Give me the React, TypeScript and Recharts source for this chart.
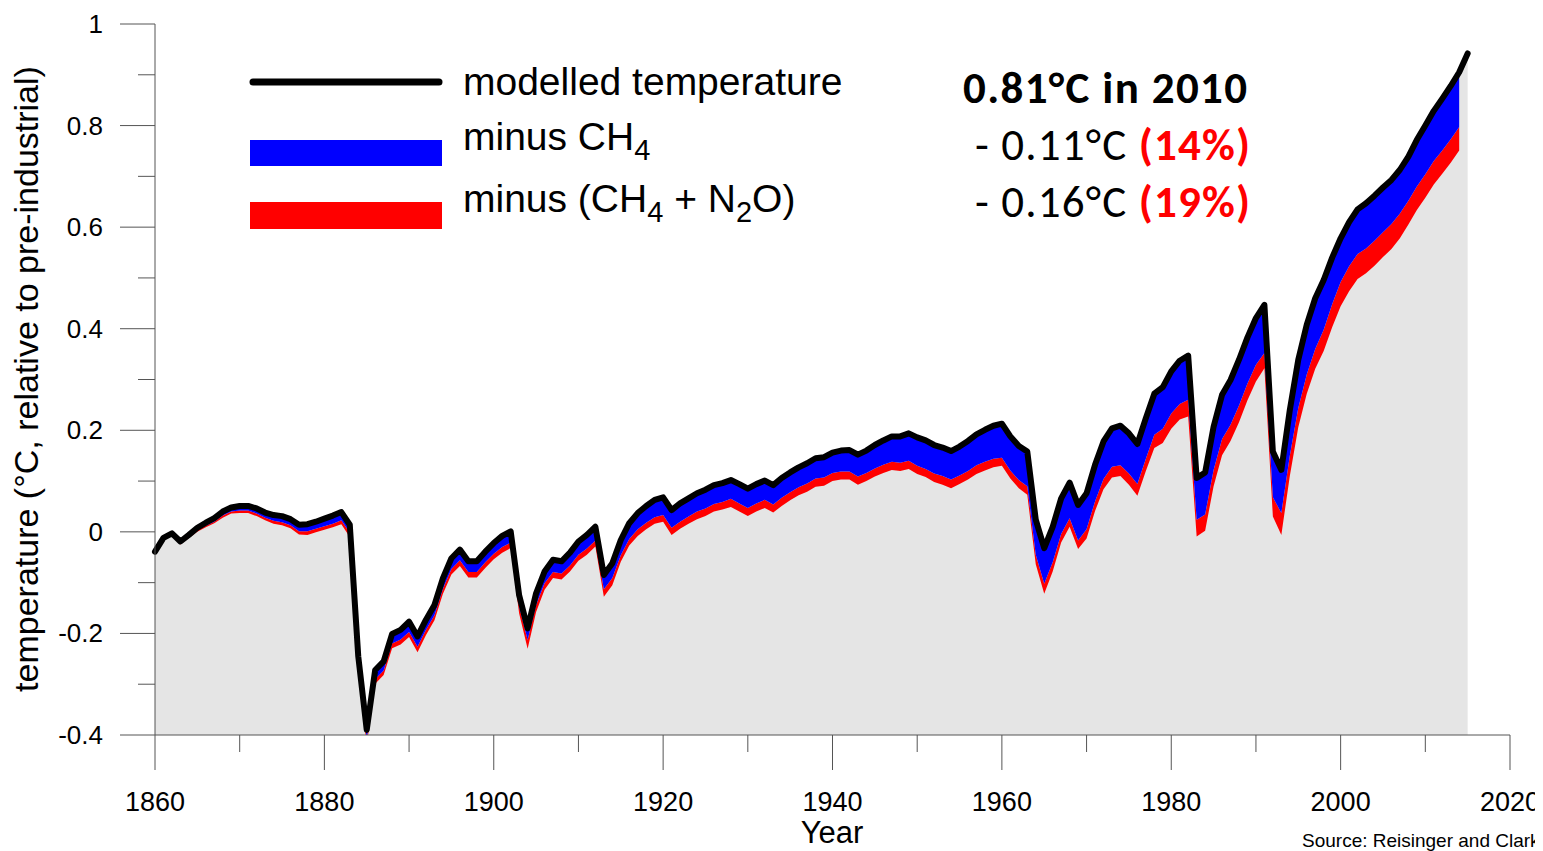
import React from "react"
import { ComposedChart, Area, Line, XAxis, YAxis } from "recharts"

// modelled temperature anomaly, one value per year from 1860
const modelled = [
  -0.039, -0.012, -0.003, -0.019, -0.006, 0.008, 0.018, 0.027, 0.04, 0.048,
  0.051, 0.051, 0.046, 0.038, 0.033, 0.031, 0.025, 0.014, 0.015, 0.02,
  0.026, 0.032, 0.039, 0.014, -0.245, -0.39, -0.272, -0.255, -0.201, -0.193,
  -0.177, -0.206, -0.173, -0.144, -0.091, -0.052, -0.035, -0.058, -0.058, -0.039,
  -0.022, -0.008, 0.001, -0.125, -0.19, -0.121, -0.078, -0.055, -0.058, -0.041,
  -0.019, -0.006, 0.01, -0.085, -0.062, -0.016, 0.017, 0.037, 0.051, 0.063,
  0.068, 0.043, 0.056, 0.066, 0.076, 0.083, 0.092, 0.096, 0.102, 0.094,
  0.085, 0.094, 0.101, 0.092, 0.106, 0.117, 0.127, 0.135, 0.145, 0.147,
  0.156, 0.16, 0.161, 0.152, 0.16, 0.171, 0.18, 0.188, 0.188, 0.194,
  0.186, 0.18, 0.171, 0.166, 0.159, 0.168, 0.179, 0.192, 0.201, 0.209,
  0.213, 0.188, 0.169, 0.158, 0.024, -0.032, 0.01, 0.066, 0.097, 0.053,
  0.076, 0.132, 0.178, 0.204, 0.209, 0.194, 0.173, 0.224, 0.272, 0.285,
  0.316, 0.337, 0.347, 0.106, 0.117, 0.207, 0.27, 0.299, 0.339, 0.383,
  0.421, 0.447, 0.158, 0.122, 0.24, 0.339, 0.408, 0.46, 0.496, 0.54,
  0.578, 0.61, 0.635, 0.647, 0.662, 0.678, 0.693, 0.713, 0.739, 0.772,
  0.8, 0.829, 0.853, 0.878, 0.905, 0.942,
]

// warming removed when CH4 is taken out (1860-2014)
const ch4Effect = [
  0.002, 0.003, 0.003, 0.004, 0.004, 0.005, 0.006, 0.007, 0.008, 0.008,
  0.009, 0.009, 0.01, 0.01, 0.011, 0.012, 0.012, 0.013, 0.014, 0.014,
  0.015, 0.016, 0.016, 0.016, 0.017, 0.018, 0.018, 0.018, 0.019, 0.019,
  0.02, 0.02, 0.02, 0.02, 0.021, 0.021, 0.021, 0.021, 0.021, 0.021,
  0.021, 0.022, 0.022, 0.022, 0.023, 0.023, 0.023, 0.024, 0.024, 0.025,
  0.026, 0.027, 0.027, 0.028, 0.029, 0.03, 0.031, 0.032, 0.033, 0.034,
  0.035, 0.035, 0.036, 0.036, 0.036, 0.037, 0.037, 0.037, 0.037, 0.038,
  0.038, 0.038, 0.038, 0.038, 0.039, 0.039, 0.039, 0.04, 0.04, 0.04,
  0.04, 0.041, 0.042, 0.043, 0.044, 0.046, 0.048, 0.05, 0.052, 0.054,
  0.056, 0.056, 0.056, 0.056, 0.056, 0.057, 0.059, 0.061, 0.063, 0.065,
  0.067, 0.067, 0.067, 0.068, 0.069, 0.07, 0.07, 0.07, 0.07, 0.07,
  0.071, 0.072, 0.074, 0.076, 0.078, 0.079, 0.079, 0.08, 0.081, 0.082,
  0.083, 0.085, 0.087, 0.082, 0.083, 0.085, 0.087, 0.088, 0.09, 0.091,
  0.092, 0.095, 0.09, 0.085, 0.09, 0.095, 0.098, 0.1, 0.098, 0.092,
  0.086, 0.087, 0.088, 0.089, 0.089, 0.088, 0.087, 0.086, 0.087, 0.092,
  0.096, 0.099, 0.102, 0.105, 0.108,
]

// additional warming removed when N2O is taken out too (1860-2014)
const n2oEffect = [
  0.001, 0.001, 0.002, 0.002, 0.002, 0.003, 0.003, 0.003, 0.004, 0.004,
  0.005, 0.005, 0.005, 0.005, 0.006, 0.006, 0.006, 0.006, 0.007, 0.007,
  0.007, 0.007, 0.008, 0.008, 0.01, 0.012, 0.009, 0.009, 0.009, 0.01,
  0.01, 0.011, 0.01, 0.01, 0.01, 0.011, 0.011, 0.011, 0.011, 0.011,
  0.011, 0.011, 0.011, 0.014, 0.017, 0.014, 0.013, 0.012, 0.012, 0.012,
  0.012, 0.012, 0.012, 0.015, 0.014, 0.013, 0.013, 0.013, 0.013, 0.013,
  0.013, 0.014, 0.014, 0.014, 0.015, 0.015, 0.015, 0.015, 0.016, 0.016,
  0.016, 0.016, 0.016, 0.016, 0.016, 0.016, 0.016, 0.016, 0.016, 0.016,
  0.016, 0.016, 0.016, 0.016, 0.016, 0.016, 0.016, 0.016, 0.016, 0.016,
  0.016, 0.016, 0.017, 0.017, 0.017, 0.017, 0.017, 0.017, 0.017, 0.017,
  0.016, 0.016, 0.016, 0.017, 0.019, 0.02, 0.018, 0.017, 0.017, 0.017,
  0.018, 0.019, 0.02, 0.021, 0.021, 0.022, 0.023, 0.024, 0.026, 0.028,
  0.03, 0.031, 0.033, 0.033, 0.032, 0.032, 0.032, 0.032, 0.033, 0.033,
  0.033, 0.03, 0.038, 0.043, 0.04, 0.038, 0.038, 0.039, 0.042, 0.045,
  0.048, 0.049, 0.049, 0.049, 0.049, 0.049, 0.049, 0.049, 0.047, 0.046,
  0.046, 0.046, 0.046, 0.046, 0.046,
]

const xTicks = [1860, 1870, 1880, 1890, 1900, 1910, 1920, 1930, 1940, 1950, 1960, 1970, 1980, 1990, 2000, 2010, 2020]
const yTicks = [-0.4, -0.3, -0.2, -0.1, 0, 0.1, 0.2, 0.3, 0.4, 0.5, 0.6, 0.7, 0.8, 0.9, 1]

const FIRST_YEAR = 1860
const AXIS = "#555"
const ARIAL = "'Liberation Sans', Arial, sans-serif"
const CALIBRI = "Carlito, Calibri, Lato, sans-serif"

const data = modelled.map((t, i) => {
  const c = ch4Effect[i]
  const n = n2oEffect[i]
  const has = c !== undefined && n !== undefined
  return {
    year: FIRST_YEAR + i,
    modelled: t,
    ch4Band: has ? [t - c, t] : null,
    n2oBand: has ? [t - c - n, t - c] : null,
  }
})

function XTick({ x, y, payload }: any) {
  const major = payload.value % 20 === 0
  return (
    <g>
      <line x1={x} x2={x} y1={y} y2={y + (major ? 35 : 17)} stroke={AXIS} />
      {major && (
        <text x={x} y={y + 76} textAnchor="middle" fontSize={27} fontFamily={ARIAL} fill="#000">
          {payload.value}
        </text>
      )}
    </g>
  )
}

function YTick({ x, y, payload }: any) {
  const v = payload.value
  const major = Math.round(v * 10) % 2 === 0
  return (
    <g>
      <line x1={x - (major ? 35 : 17)} x2={x} y1={y} y2={y} stroke={AXIS} />
      {major && (
        <text x={x - 52} y={y + 9} textAnchor="end" fontSize={26} fontFamily={ARIAL} fill="#000">
          {v === 0 ? "0" : String(v)}
        </text>
      )}
    </g>
  )
}

export default function App() {
  return (
    <div style={{ position: "relative", width: 1535, height: 843, overflow: "hidden" }}>
      <ComposedChart
        width={1535}
        height={843}
        data={data}
        margin={{ top: 16, right: 33, left: 47, bottom: 36 }}
      >
        <XAxis
          dataKey="year"
          type="number"
          domain={[1860, 2020]}
          ticks={xTicks}
          interval={0}
          height={80}
          tickSize={0}
          tickMargin={0}
          tickLine={false}
          axisLine={{ stroke: AXIS }}
          tick={(p: any) => <XTick {...p} />}
        />
        <YAxis
          type="number"
          domain={[-0.4, 1]}
          ticks={yTicks}
          interval={0}
          width={100}
          tickSize={0}
          tickMargin={0}
          tickLine={false}
          axisLine={{ stroke: AXIS }}
          allowDataOverflow
          tick={(p: any) => <YTick {...p} />}
        />
        <Area
          dataKey="modelled"
          type="linear"
          baseValue="dataMin"
          fill="#e5e5e5"
          fillOpacity={1}
          stroke="none"
          dot={false}
          activeDot={false}
          isAnimationActive={false}
        />
        <Area
          dataKey="n2oBand"
          type="linear"
          fill="#ff0000"
          fillOpacity={1}
          stroke="none"
          dot={false}
          activeDot={false}
          isAnimationActive={false}
        />
        <Area
          dataKey="ch4Band"
          type="linear"
          fill="#0000ff"
          fillOpacity={1}
          stroke="none"
          dot={false}
          activeDot={false}
          isAnimationActive={false}
        />
        <Line
          dataKey="modelled"
          type="linear"
          stroke="#000"
          strokeWidth={6}
          strokeLinejoin="round"
          strokeLinecap="round"
          dot={false}
          activeDot={false}
          isAnimationActive={false}
        />
      </ComposedChart>

      {/* legend, annotations and axis titles */}
      <svg
        width={1535}
        height={843}
        style={{ position: "absolute", left: 0, top: 0, pointerEvents: "none" }}
      >
        <text
          transform="translate(30,371) rotate(-90)"
          textAnchor="middle"
          fontSize={34}
          fontFamily={ARIAL}
          fill="#000"
        >
          temperature (°C, relative to pre-industrial)
        </text>
        <text x={824} y={835} textAnchor="middle" fontSize={31} fontFamily={ARIAL} fill="#000">
          Year
        </text>
        <text x={1294} y={839} fontSize={19} fontFamily={ARIAL} fill="#000">
          Source: Reisinger and Clark
        </text>

        <line x1={245} x2={431} y1={74} y2={74} stroke="#000" strokeWidth={7} strokeLinecap="round" />
        <rect x={242} y={132} width={192} height={26} fill="#0000ff" />
        <rect x={242} y={194} width={192} height={27} fill="#ff0000" />
        <g fontSize={39} fontFamily={ARIAL} fill="#000">
          <text x={455} y={87}>modelled temperature</text>
          <text x={455} y={142}>
            minus CH<tspan dy={10} fontSize={29}>4</tspan>
          </text>
          <text x={455} y={204}>
            minus (CH<tspan dy={10} fontSize={29}>4</tspan>
            <tspan dy={-10}> + N</tspan>
            <tspan dy={10} fontSize={29}>2</tspan>
            <tspan dy={-10}>O)</tspan>
          </text>
        </g>

        <g fontSize={45} fontFamily={CALIBRI} fill="#000">
          <text x={955} y={95} fontWeight="bold" textLength={284} lengthAdjust="spacing">
            0.81°C in 2010
          </text>
          <text x={967} y={152} textLength={275} lengthAdjust="spacing">
            - 0.11°C <tspan fill="#ff0000" fontWeight="bold">(14%)</tspan>
          </text>
          <text x={967} y={209} textLength={275} lengthAdjust="spacing">
            - 0.16°C <tspan fill="#ff0000" fontWeight="bold">(19%)</tspan>
          </text>
        </g>
      </svg>
    </div>
  )
}
